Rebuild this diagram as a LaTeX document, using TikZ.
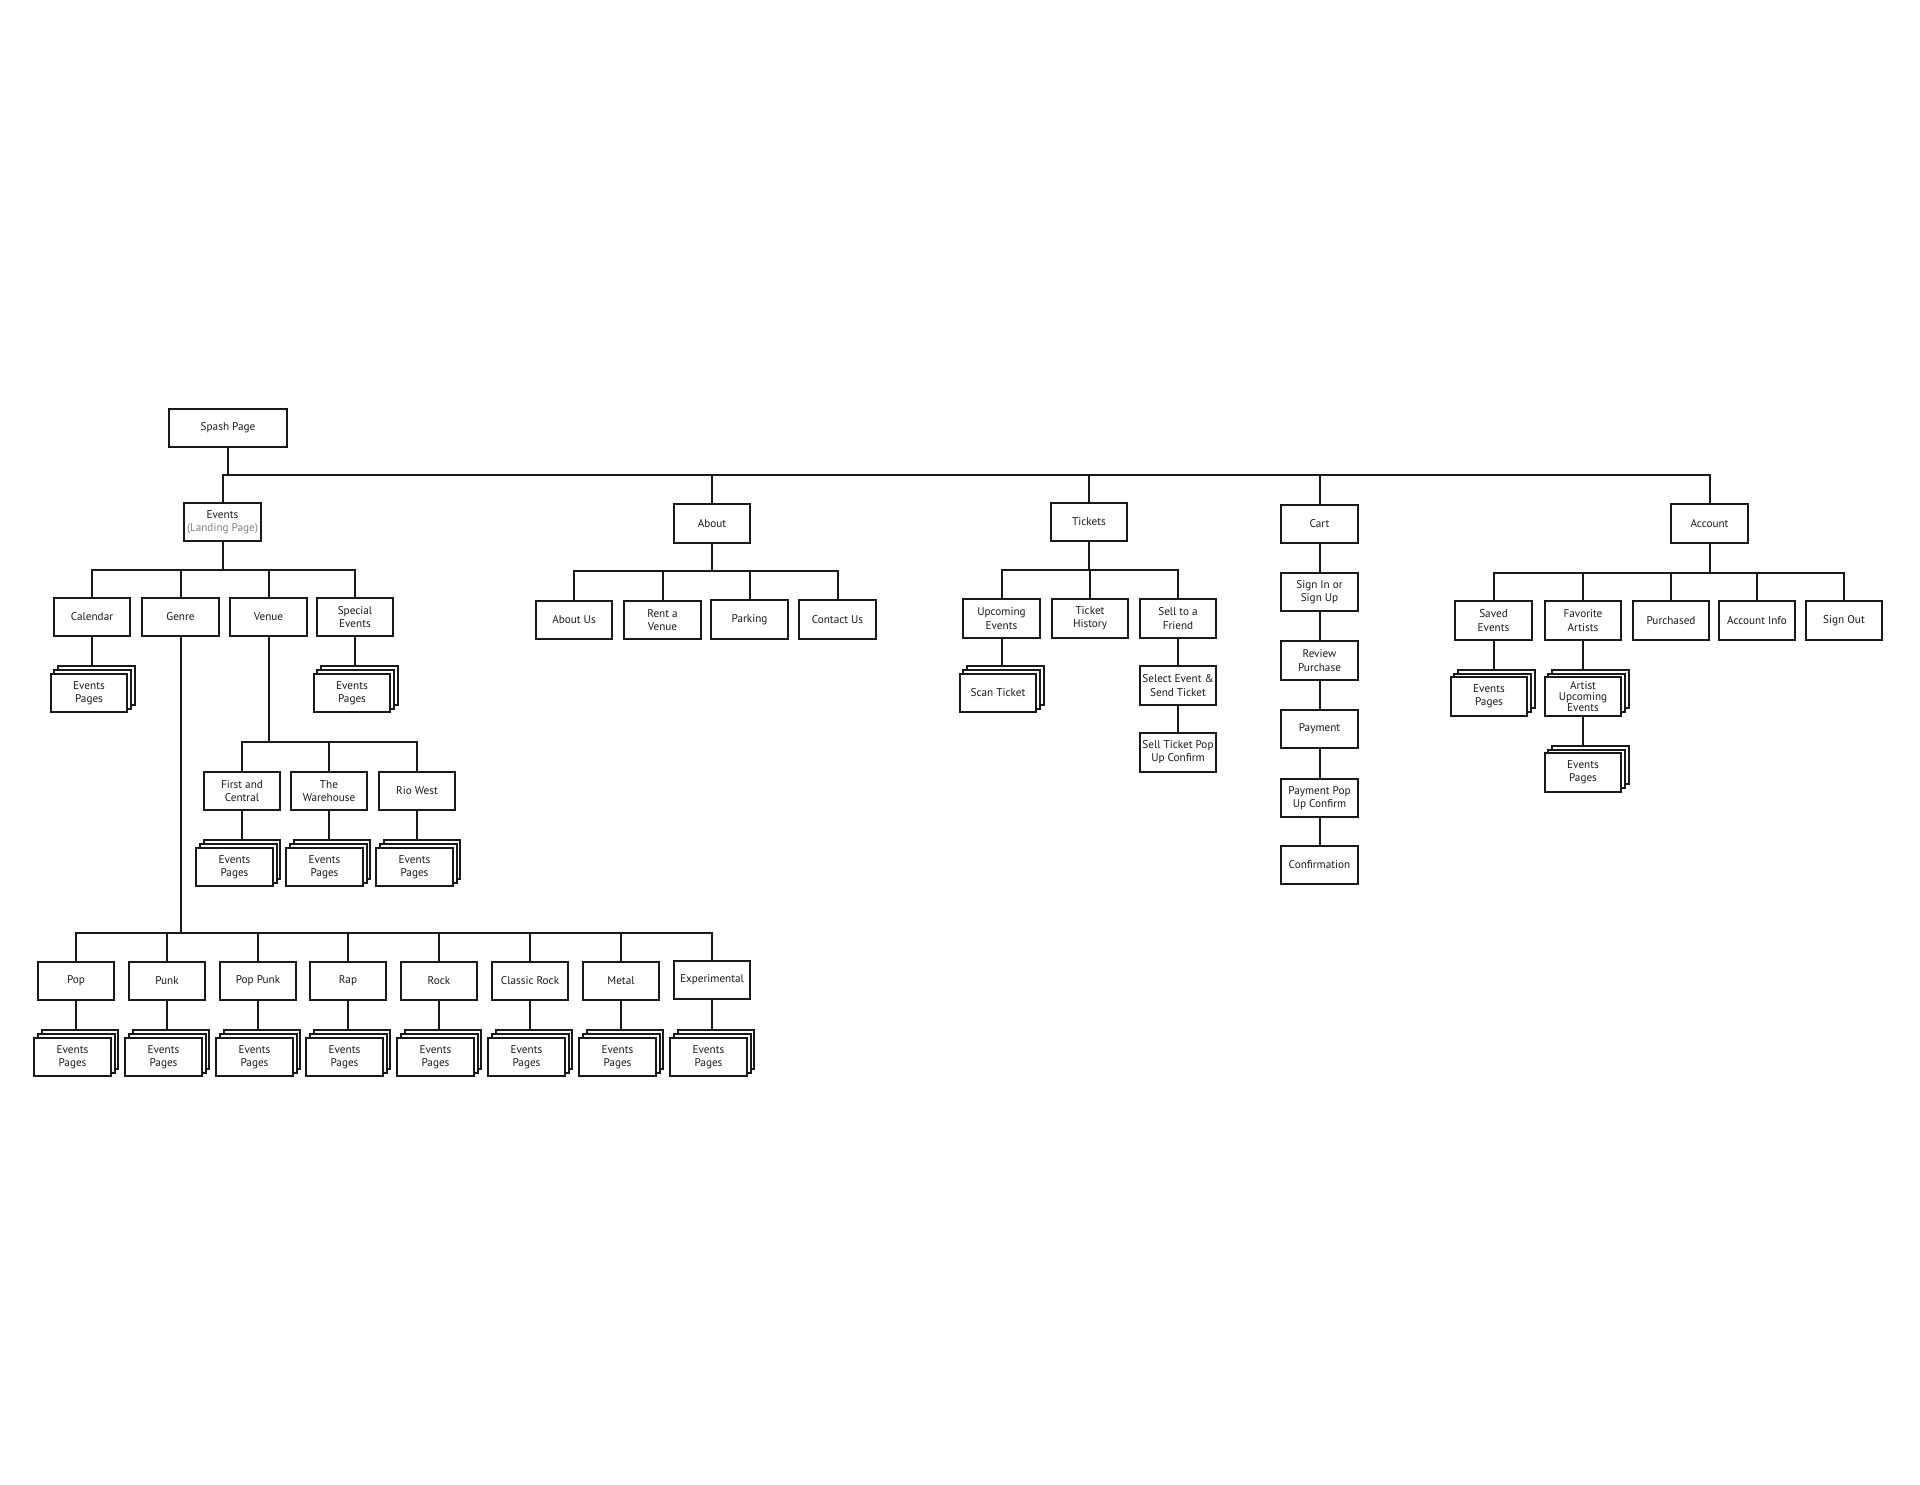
\documentclass[tikz,border=0pt]{standalone}
\usepackage{fontspec}
\setmainfont{PT Sans}
\usetikzlibrary{shadows,backgrounds}
\pgfdeclarelayer{bottom}
\pgfsetlayers{bottom,background,main}
\begin{document}
\begin{tikzpicture}[x=0.5pt,y=-0.5pt,
  box/.style={draw=black!90, fill=white, line width=1pt, minimum width=38.3pt, minimum height=19.3pt,
    inner sep=0pt, align=center, font=\fontsize{5.6}{6.6}\selectfont, text=black!90},
  stack/.style={box, double copy shadow={shadow xshift=1.85pt, shadow yshift=1.85pt}},
  link/.style={draw=black!90, line width=1pt}]
\begin{pgfonlayer}{bottom}
\fill[white] (0,0) rectangle (1920,1484);
\end{pgfonlayer}
\useasboundingbox (0,0) rectangle (1920,1484);

% level 0 / 1
\node[box, minimum width=59.3pt] (spash) at (228,428) {Spash Page};
\node[box] (events) at (222.5,522) {Events\\{\color{black!50}(Landing Page)}};
\node[box] (about) at (712,523.5) {About};
\node[box] (tickets) at (1089,522) {Tickets};
\node[box] (cart) at (1319.5,524) {Cart};
\node[box] (account) at (1709.5,523.5) {Account};

% Events
\node[box] (cal) at (92,617) {Calendar};
\node[box] (genre) at (180.5,617) {Genre};
\node[box] (venue) at (268.5,617) {Venue};
\node[box] (special) at (355,617) {Special\\Events};
\node[stack] (calp) at (89,693) {Events\\Pages};
\node[stack] (specp) at (352,693) {Events\\Pages};

\node[box] (fc) at (242,791) {First and\\Central};
\node[box] (wh) at (329,791) {The\\Warehouse};
\node[box] (rio) at (417,791) {Rio West};
\node[stack] (fcp) at (234.5,867) {Events\\Pages};
\node[stack] (whp) at (324.5,867) {Events\\Pages};
\node[stack] (riop) at (414.5,867) {Events\\Pages};

\node[box] (pop) at (76,981) {Pop};
\node[box] (punk) at (167,981) {Punk};
\node[box] (poppunk) at (258,981) {Pop Punk};
\node[box] (rap) at (348,981) {Rap};
\node[box] (rock) at (439,981) {Rock};
\node[box] (classic) at (530,981) {Classic Rock};
\node[box] (metal) at (621,981) {Metal};
\node[box] (exp) at (712,980) {Experimental};
\node[stack] (popp) at (72.5,1057) {Events\\Pages};
\node[stack] (punkp) at (163.5,1057) {Events\\Pages};
\node[stack] (poppunkp) at (254.5,1057) {Events\\Pages};
\node[stack] (rapp) at (344.5,1057) {Events\\Pages};
\node[stack] (rockp) at (435.5,1057) {Events\\Pages};
\node[stack] (classicp) at (526.5,1057) {Events\\Pages};
\node[stack] (metalp) at (617.5,1057) {Events\\Pages};
\node[stack] (expp) at (708.5,1057) {Events\\Pages};

% About
\node[box] (aboutus) at (574,620) {About Us};
\node[box] (rent) at (662.5,620) {Rent a\\Venue};
\node[box] (parking) at (749.5,619.5) {Parking};
\node[box] (contact) at (837.5,619.5) {Contact Us};

% Tickets
\node[box] (upcoming) at (1001.5,618.5) {Upcoming\\Events};
\node[box] (history) at (1090,618.5) {Ticket\\History};
\node[box] (sell) at (1178,618.5) {Sell to a\\Friend};
\node[stack] (scan) at (998,693) {Scan Ticket};
\node[box] (select) at (1178,685.5) {Select Event \&\\Send Ticket};
\node[box] (sellpop) at (1178,752.5) {Sell Ticket Pop\\Up Confirm};

% Cart
\node[box] (signin) at (1319.5,592) {Sign In or\\Sign Up};
\node[box] (review) at (1319.5,660.5) {Review\\Purchase};
\node[box] (payment) at (1319.5,729) {Payment};
\node[box] (paypop) at (1319.5,798) {Payment Pop\\Up Confirm};
\node[box] (confirm) at (1319.5,865) {Confirmation};

% Account
\node[box] (saved) at (1493.5,620.5) {Saved\\Events};
\node[box] (fav) at (1583,620.5) {Favorite\\Artists};
\node[box] (purchased) at (1671,620.5) {Purchased};
\node[box] (accinfo) at (1757,620.5) {Account Info};
\node[box] (signout) at (1844,620.5) {Sign Out};
\node[stack] (savedp) at (1489,696.5) {Events\\Pages};
\node[stack, font=\fontsize{5.6}{5.5}\selectfont] (aue) at (1583,696.5) {Artist\\Upcoming\\Events};
\node[stack] (auep) at (1583,772.5) {Events\\Pages};

\begin{scope}[on background layer]
  \foreach \c in {events,about,tickets,cart,account}
    \draw[link] (spash.south) -- (spash.south |- 0,475) -| (\c.north);
  \foreach \c in {cal,genre,venue,special}
    \draw[link] (events.south) -- (events.south |- 0,570) -| (\c.north);
  \foreach \c in {fc,wh,rio}
    \draw[link] (venue.south) -- (venue.south |- 0,742) -| (\c.north);
  \foreach \c in {pop,punk,poppunk,rap,rock,classic,metal,exp}
    \draw[link] (genre.south) -- (genre.south |- 0,933) -| (\c.north);
  \foreach \c in {aboutus,rent,parking,contact}
    \draw[link] (about.south) -- (about.south |- 0,571) -| (\c.north);
  \foreach \c in {upcoming,history,sell}
    \draw[link] (tickets.south) -- (tickets.south |- 0,570) -| (\c.north);
  \foreach \c in {saved,fav,purchased,accinfo,signout}
    \draw[link] (account.south) -- (account.south |- 0,573) -| (\c.north);
  % stacks
  \foreach \p/\s in {cal/calp,special/specp,fc/fcp,wh/whp,rio/riop,pop/popp,punk/punkp,
      poppunk/poppunkp,rap/rapp,rock/rockp,classic/classicp,metal/metalp,exp/expp,
      upcoming/scan,saved/savedp,fav/aue,aue/auep}
    \draw[link] (\p.south) -- (\p.south |- \s.north);
  % chains
  \draw[link] (sell) -- (select);
  \draw[link] (select) -- (sellpop);
  \draw[link] (cart) -- (signin);
  \draw[link] (signin) -- (review);
  \draw[link] (review) -- (payment);
  \draw[link] (payment) -- (paypop);
  \draw[link] (paypop) -- (confirm);
\end{scope}
\end{tikzpicture}
\end{document}
